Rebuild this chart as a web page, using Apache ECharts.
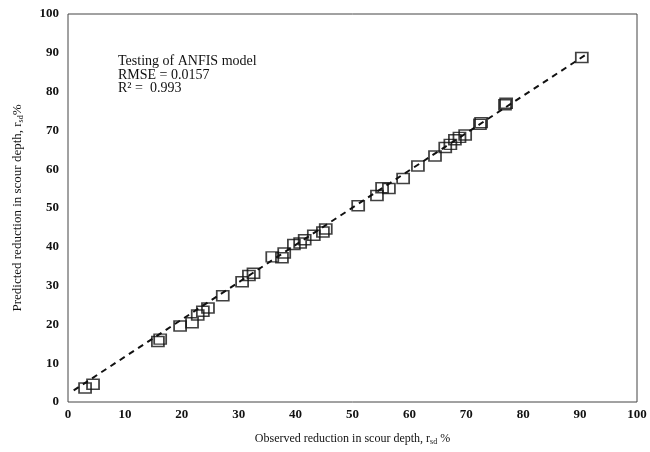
<!DOCTYPE html>
<html>
<head>
<meta charset="utf-8">
<script src="https://cdn.jsdelivr.net/npm/echarts@6/dist/echarts.min.js"></script>
<style>
  html, body { margin: 0; padding: 0; background: #fff; }
  #chart { width: 650px; height: 452px; }
</style>
</head>
<body>
<div id="chart"></div>
<script>
// observed vs predicted reduction in scour depth (%)
const observed = [3.0, 4.4, 15.8, 16.2, 19.7, 21.8, 22.8, 23.7, 24.6, 27.2,
  30.6, 31.8, 32.6, 35.9, 37.6, 38.0, 39.7, 40.8, 41.6, 43.2, 44.8, 45.3,
  51.0, 54.3, 55.2, 56.4, 58.9, 61.5, 64.5, 66.3, 67.2, 68.0, 68.8, 69.8,
  72.4, 72.6, 76.8, 77.0, 90.3];
const predicted = [3.6, 4.6, 15.6, 16.2, 19.6, 20.4, 22.4, 23.4, 24.2, 27.4,
  31.0, 32.6, 33.2, 37.4, 37.2, 38.4, 40.6, 41.0, 41.8, 43.0, 43.8, 44.6,
  50.6, 53.2, 55.2, 55.0, 57.6, 60.8, 63.4, 65.6, 66.4, 67.6, 68.2, 68.8,
  71.6, 72.0, 76.6, 77.0, 88.8];
// fitted line end points
const lineX = [1, 91];
const lineY = [3, 89.5];

const serif = "Liberation Serif";
let chart = echarts.init(document.getElementById("chart"));

let axisLabel = {
  color: "#111",
  fontFamily: serif,
  fontWeight: "bold",
  fontSize: 13,
};

let options = {
  backgroundColor: "#fff",
  animation: false,
  title: {
    text: "Testing of ANFIS model\nRMSE = 0.0157\nR\u00b2 =  0.993",
    left: 118,
    top: 55,
    padding: 0,
    textStyle: {
      fontFamily: serif,
      fontWeight: "normal",
      fontSize: 14,
      lineHeight: 13.5,
      color: "#111",
    },
  },
  grid: {
    left: 68,
    right: 13,
    top: 14,
    bottom: 50,
    outerBoundsMode: "none",
    show: true,
    borderColor: "#444",
    borderWidth: 1,
  },
  xAxis: {
    type: "value",
    min: 0,
    max: 100,
    interval: 10,
    name: "Observed reduction in scour depth, r{sub|sd} %",
    nameLocation: "middle",
    nameGap: 30,
    nameTextStyle: {
      fontFamily: serif,
      fontSize: 12,
      color: "#111",
      rich: {
        sub: { fontFamily: serif, fontSize: 8, padding: [6, 0, 0, 0], color: "#111" },
      },
    },
    axisLine: { show: false },
    axisTick: { show: false },
    splitLine: { show: false },
    axisLabel: Object.assign({ margin: 6 }, axisLabel),
  },
  yAxis: {
    type: "value",
    min: 0,
    max: 100,
    interval: 10,
    name: "Predicted reduction in scour depth, r{sub|sd}%",
    nameLocation: "middle",
    nameGap: 43,
    nameTextStyle: {
      fontFamily: serif,
      fontSize: 13,
      color: "#111",
      rich: {
        sub: { fontFamily: serif, fontSize: 8, padding: [7, 0, 0, 0], color: "#111" },
      },
    },
    axisLine: { show: false },
    axisTick: { show: false },
    splitLine: { show: false },
    axisLabel: Object.assign({ margin: 9 }, axisLabel),
  },
  series: [
    {
      name: "fit",
      type: "line",
      data: lineX.map((x, i) => [x, lineY[i]]),
      symbol: "none",
      lineStyle: { color: "#111", width: 2, type: [6, 5] },
      z: 1,
    },
    {
      name: "ANFIS",
      type: "scatter",
      data: observed.map((x, i) => [x, predicted[i]]),
      symbol: "rect",
      symbolSize: [12, 10],
      itemStyle: {
        color: "rgba(255,255,255,0)",
        borderColor: "#111",
        borderWidth: 1.6,
      },
      z: 2,
    },
  ],
};

chart.setOption(options);
</script>
</body>
</html>
